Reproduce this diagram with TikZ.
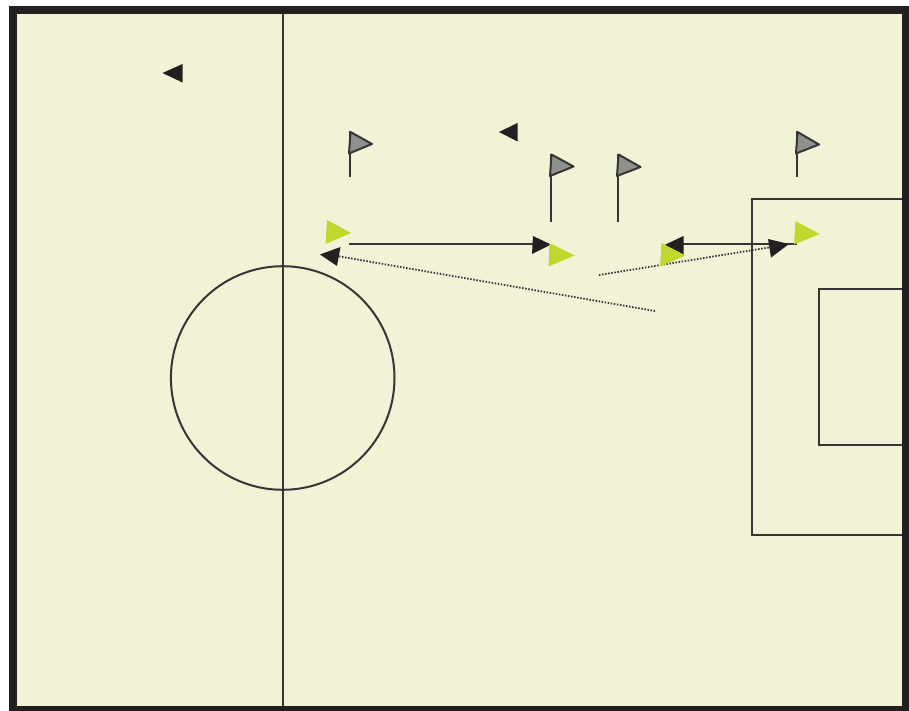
\documentclass[tikz,border=0pt]{standalone}
\definecolor{pitch}{HTML}{F0F3D6}
\definecolor{ink}{HTML}{231F20}
\definecolor{lime}{HTML}{C1D72E}
\definecolor{flaggrey}{HTML}{8E918C}
\tikzset{
  pitchline/.style={draw=ink!90,line width=2pt},
  passline/.style={draw=ink!90,line width=2pt},
  runline/.style={draw=ink!90,line width=1.8pt,dash pattern=on 1.5pt off 1.6pt},
  blackmark/.style={fill=ink,draw=none},
  limemark/.style={fill=lime,draw=none},
  flagcloth/.style={fill=flaggrey,draw=ink!90,line width=2pt,line join=round},
  flagpole/.style={draw=ink!90,line width=2pt}
}
\begin{document}
\begin{tikzpicture}[x=1pt,y=-1pt]
\useasboundingbox (0,0) rectangle (909,711);
\fill[white] (0,0) rectangle (909,711);
\fill[ink] (9,6) rectangle (909,711);
\fill[pitch] (17,14) rectangle (902,706);
% pitch markings
\draw[pitchline] (282.5,14) -- (282.5,706);
\draw[pitchline] (282.7,378) circle (111.8);
\draw[pitchline] (902,199) -- (752,199) -- (752,534.5) -- (902,534.5);
\draw[pitchline] (902,289) -- (819,289) -- (819,445) -- (902,445);
% connector ends
\coordinate (p1) at (349,244);
\coordinate (p2) at (536,244);
\coordinate (p3) at (797,244);
\coordinate (p4) at (680,244);
\coordinate (r1) at (655,311);
\coordinate (r2) at (337,256);
\coordinate (r3) at (599,275);
\coordinate (r4) at (772,247);
% connectors
\draw[runline] (r1) -- (r2);
\draw[runline] (r3) -- (r4);
\draw[passline] (p1) -- (p2);
\draw[passline] (p3) -- (p4);
% flags
\draw[flagpole] (350,131) -- (350,177);
\draw[flagcloth] (350.5,132) -- (372,144) -- (349,153.5) -- cycle;
\draw[flagpole] (551,154) -- (551,222);
\draw[flagcloth] (551.5,154.5) -- (573.5,166.5) -- (550,176) -- cycle;
\draw[flagpole] (618,154) -- (618,222);
\draw[flagcloth] (618.5,154.5) -- (640.5,167) -- (617,176) -- cycle;
\draw[flagpole] (797,131) -- (797,177);
\draw[flagcloth] (797.5,132) -- (819,144.5) -- (796,153.5) -- cycle;
% black markers
\fill[blackmark] (162.5,73) -- (182.5,64) -- (182.5,82.5) -- cycle;
\fill[blackmark] (499,132) -- (517.5,123) -- (517.5,141.5) -- cycle;
\fill[blackmark] (320,254.5) -- (340.5,247) -- (337,266) -- cycle;
\fill[blackmark] (533,236) -- (551,244.5) -- (532,254) -- cycle;
\fill[blackmark] (664.5,245) -- (683.5,236) -- (683.5,254.5) -- cycle;
\fill[blackmark] (768,239) -- (789,244) -- (771,257.5) -- cycle;
% lime markers
\fill[limemark] (327,220) -- (351,233) -- (325.5,244) -- cycle;
\fill[limemark] (549.5,243) -- (574.5,255.5) -- (548.5,266.5) -- cycle;
\fill[limemark] (661.5,243) -- (685.5,255.5) -- (660,266.5) -- cycle;
\fill[limemark] (795.5,221) -- (819.5,234) -- (794,244.5) -- cycle;
\end{tikzpicture}
\end{document}
